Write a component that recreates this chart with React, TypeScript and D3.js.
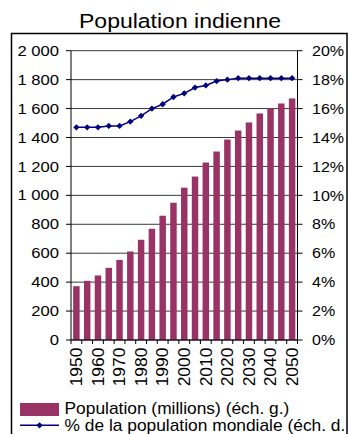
import React from 'react';
import * as d3 from 'd3';

const years = [1950, 1955, 1960, 1965, 1970, 1975, 1980, 1985, 1990, 1995, 2000, 2005, 2010, 2015, 2020, 2025, 2030, 2035, 2040, 2045, 2050];
const population = [372, 409, 446, 499, 554, 612, 693, 769, 859, 949, 1053, 1130, 1227, 1303, 1386, 1448, 1504, 1566, 1603, 1635, 1670];
const worldShare = [14.7, 14.7, 14.7, 14.8, 14.8, 15.1, 15.5, 16.0, 16.3, 16.8, 17.05, 17.45, 17.6, 17.9, 18.0, 18.1, 18.1, 18.1, 18.1, 18.1, 18.1];
const leftTicks = [0, 200, 400, 600, 800, 1000, 1200, 1400, 1600, 1800, 2000];
const rightTicks = [0, 2, 4, 6, 8, 10, 12, 14, 16, 18, 20];
const labelYears = [1950, 1960, 1970, 1980, 1990, 2000, 2010, 2020, 2030, 2040, 2050];

const title = 'Population indienne';
const legendBars = 'Population (millions) (éch. g.)';
const legendLine = '% de la population mondiale (éch. d.';

const BAR = '#993366';
const LINE = '#000080';
const FONT = '"Liberation Sans", Arial, sans-serif';

export default function App() {
  const W = 349;
  const H = 434;
  const left = 71, right = 297.5, top = 50.7, bottom = 340;

  const x = d3.scaleBand<number>().domain(years).range([left, right]).paddingInner(0.4).paddingOuter(0.2);
  const cat = d3.scaleLinear().domain([0, years.length]).range([left, right]);
  const yL = d3.scaleLinear().domain([0, 2000]).range([bottom, top]);
  const yR = d3.scaleLinear().domain([0, 20]).range([bottom, top]);
  const fmt = (v: number) => d3.format(',')(v).replace(/,/g, ' ');
  const cx = (yr: number) => (x(yr) as number) + x.bandwidth() / 2;

  const linePath = d3.line<number>().x((_, i) => cx(years[i])).y((d) => yR(d))(worldShare) || '';
  const diamond = d3.symbol().type(d3.symbolSquare).size(20)() || '';

  const catTicks = d3.range(years.length + 1);

  return (
    <svg width={W} height={H} style={{ position: 'absolute', left: 0, top: 0, background: '#fff' }} fontFamily={FONT}>
      <rect x={0} y={0} width={W} height={H} fill="#fff" />
      <text transform="translate(180,28) scale(1.18,1)" textAnchor="middle" fontSize={19.5} fill="#000">{title}</text>
      <rect x={11.5} y={33.5} width={335.5} height={430} fill="none" stroke="#000" strokeWidth={1.5} />

      {/* grid */}
      {leftTicks.map((t) => (
        <line key={'g' + t} x1={left} x2={right} y1={yL(t)} y2={yL(t)} stroke="#222" strokeWidth={0.9} />
      ))}

      {/* bars */}
      {years.map((yr, i) => (
        <rect key={'b' + yr} x={x(yr)} y={yL(population[i])} width={x.bandwidth()} height={bottom - yL(population[i])} fill={BAR} />
      ))}

      {/* axes */}
      <line x1={left} x2={left} y1={top} y2={bottom} stroke="#000" strokeWidth={1} />
      <line x1={right} x2={right} y1={top} y2={bottom} stroke="#000" strokeWidth={1} />
      <line x1={left} x2={right} y1={bottom} y2={bottom} stroke="#000" strokeWidth={1} />
      {leftTicks.map((t) => (
        <g key={'lt' + t}>
          <line x1={left - 5} x2={left} y1={yL(t)} y2={yL(t)} stroke="#000" />
          <text transform={`translate(59,${yL(t) + 5.1}) scale(1.17,1)`} textAnchor="end" fontSize={14.2} fill="#000">{fmt(t)}</text>
        </g>
      ))}
      {rightTicks.map((t) => (
        <g key={'rt' + t}>
          <line x1={right} x2={right + 5} y1={yR(t)} y2={yR(t)} stroke="#000" />
          <text transform={`translate(312,${yR(t) + 5.2}) scale(1.1,1)`} textAnchor="start" fontSize={14.6} fill="#000">{t + '%'}</text>
        </g>
      ))}
      {catTicks.map((k) => (
        <line key={'ct' + k} x1={cat(k)} x2={cat(k)} y1={bottom} y2={bottom + 4} stroke="#000" />
      ))}
      {labelYears.map((yr) => (
        <text key={'xl' + yr} transform={`translate(${cx(yr) + 5.7},347.5) rotate(-90) scale(1.12,1.04)`} textAnchor="end" fontSize={15.6} fill="#000">{yr}</text>
      ))}

      {/* line series */}
      <path d={linePath} fill="none" stroke={LINE} strokeWidth={1.5} />
      {worldShare.map((v, i) => (
        <path key={'m' + i} d={diamond} transform={`translate(${cx(years[i])},${yR(v)}) rotate(45)`} fill={LINE} />
      ))}

      {/* legend */}
      <rect x={20} y={403} width={39} height={13} fill={BAR} />
      <text transform="translate(64.5,413.5) scale(1.086,1)" fontSize={16} fill="#000">{legendBars}</text>
      <line x1={20} x2={59} y1={425.3} y2={425.3} stroke={LINE} strokeWidth={1.5} />
      <path d={diamond} transform={`translate(39.5,425.3) rotate(45)`} fill={LINE} />
      <text transform="translate(64.5,430.5) scale(1.086,1)" fontSize={16} fill="#000">{legendLine}</text>
    </svg>
  );
}
